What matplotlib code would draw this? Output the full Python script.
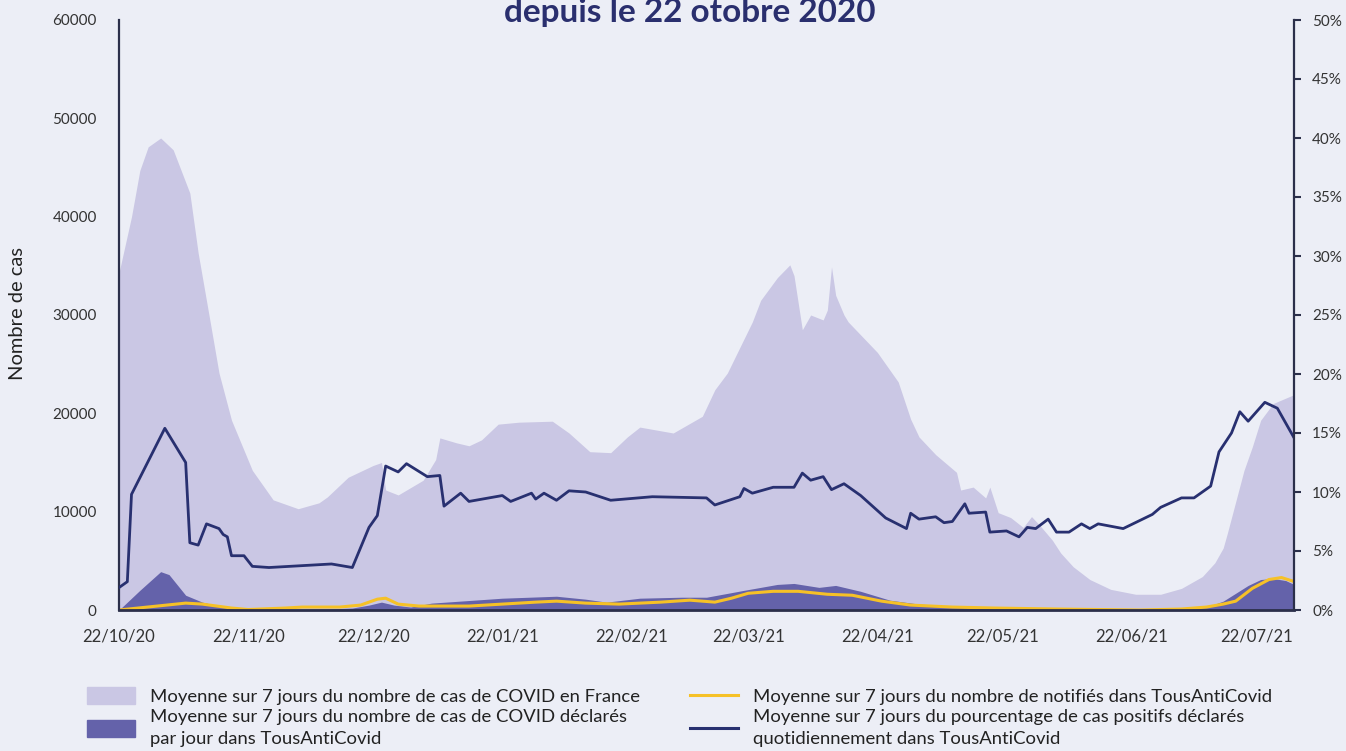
import numpy as np
import pandas as pd
import matplotlib
matplotlib.use('Agg')
import matplotlib.pyplot as plt
import matplotlib.dates as mdates
from matplotlib.patches import Patch
from matplotlib.lines import Line2D

plt.rcParams['font.family'] = ['Lato', 'DejaVu Sans']

# moyenne 7 jours des cas en France (aire claire)
france_dates = ['2020-10-22', '2020-10-25', '2020-10-27', '2020-10-29', '2020-11-01', '2020-11-04',
                '2020-11-08', '2020-11-10', '2020-11-13', '2020-11-15', '2020-11-18', '2020-11-23',
                '2020-11-28', '2020-12-04', '2020-12-09', '2020-12-11', '2020-12-16', '2020-12-22',
                '2020-12-24', '2020-12-25', '2020-12-28', '2021-01-03', '2021-01-06', '2021-01-07',
                '2021-01-11', '2021-01-14', '2021-01-17', '2021-01-21', '2021-01-26', '2021-02-03',
                '2021-02-07', '2021-02-12', '2021-02-17', '2021-02-21', '2021-02-24', '2021-02-28',
                '2021-03-04', '2021-03-11', '2021-03-14', '2021-03-17', '2021-03-23', '2021-03-25',
                '2021-03-29', '2021-04-01', '2021-04-02', '2021-04-04', '2021-04-06', '2021-04-09',
                '2021-04-10', '2021-04-11', '2021-04-12', '2021-04-14', '2021-04-15', '2021-04-22',
                '2021-04-27', '2021-04-30', '2021-05-02', '2021-05-06', '2021-05-11', '2021-05-12',
                '2021-05-15', '2021-05-18', '2021-05-19', '2021-05-21', '2021-05-24', '2021-05-27',
                '2021-05-29', '2021-05-31', '2021-06-03', '2021-06-05', '2021-06-08', '2021-06-12',
                '2021-06-17', '2021-06-23', '2021-06-29', '2021-07-04', '2021-07-09', '2021-07-12',
                '2021-07-14', '2021-07-15', '2021-07-17', '2021-07-19', '2021-07-21', '2021-07-23',
                '2021-07-26', '2021-07-31']
france_cases = [34300, 40000, 44700, 47100, 48000, 46800,
                42400, 36300, 29000, 24100, 19300, 14200,
                11200, 10300, 10900, 11500, 13500, 14700,
                15000, 12200, 11700, 13200, 15300, 17500,
                17000, 16700, 17300, 18900, 19100, 19200,
                18000, 16100, 16000, 17600, 18600, 18300,
                18000, 19700, 22400, 24100, 29300, 31500,
                33800, 35100, 34000, 28500, 30000, 29500,
                30500, 34900, 32000, 30000, 29300, 26200,
                23200, 19400, 17600, 15800, 14000, 12200,
                12500, 11400, 12500, 9900, 9400, 8400,
                9500, 8600, 7100, 5800, 4400, 3100,
                2100, 1600, 1600, 2200, 3400, 4800,
                6300, 7800, 11000, 14200, 16600, 19300,
                21000, 21900]

# moyenne 7 jours des cas declares dans TousAntiCovid (aire foncee)
tac_dates = ['2020-10-22', '2020-10-27', '2020-11-01', '2020-11-03', '2020-11-07', '2020-11-11',
             '2020-11-16', '2020-11-21', '2020-12-01', '2020-12-11', '2020-12-17', '2020-12-21',
             '2020-12-24', '2020-12-27', '2020-12-31', '2021-01-05', '2021-01-22', '2021-02-04',
             '2021-02-11', '2021-02-16', '2021-02-24', '2021-03-06', '2021-03-12', '2021-03-21',
             '2021-03-29', '2021-04-02', '2021-04-08', '2021-04-12', '2021-04-18', '2021-04-25',
             '2021-05-02', '2021-05-10', '2021-05-20', '2021-06-04', '2021-06-29', '2021-07-10',
             '2021-07-14', '2021-07-17', '2021-07-20', '2021-07-23', '2021-07-26', '2021-07-29',
             '2021-07-31']
tac_cases = [0, 2000, 3900, 3600, 1500, 800,
             300, 100, 50, 100, 200, 500,
             800, 500, 300, 700, 1200, 1400,
             1100, 800, 1200, 1300, 1300, 2000,
             2600, 2700, 2300, 2500, 1900, 1000,
             600, 400, 200, 100, 100, 300,
             900, 1700, 2500, 3100, 3200, 3000,
             2600]

# moyenne 7 jours des notifies (ligne jaune)
notif_dates = ['2020-10-22', '2020-11-07', '2020-11-11', '2020-11-18', '2020-11-22', '2020-12-01',
               '2020-12-05', '2020-12-14', '2020-12-19', '2020-12-23', '2020-12-25', '2020-12-28',
               '2021-01-02', '2021-01-14', '2021-01-22', '2021-01-30', '2021-02-04', '2021-02-11',
               '2021-02-19', '2021-03-01', '2021-03-08', '2021-03-14', '2021-03-18', '2021-03-22',
               '2021-03-28', '2021-04-03', '2021-04-10', '2021-04-16', '2021-04-23', '2021-04-30',
               '2021-05-10', '2021-05-20', '2021-06-04', '2021-06-24', '2021-07-04', '2021-07-10',
               '2021-07-14', '2021-07-17', '2021-07-21', '2021-07-25', '2021-07-28', '2021-07-31']
notif_cases = [0, 700, 600, 200, 50, 200,
               300, 300, 500, 1100, 1200, 600,
               400, 400, 600, 800, 900, 700,
               600, 800, 1000, 800, 1200, 1700,
               1900, 1900, 1600, 1500, 900, 500,
               300, 200, 100, 0, 100, 300,
               600, 900, 2200, 3100, 3300, 2900]

# pourcentage de cas positifs (ligne bleue, axe droit)
pct_dates = ['2020-10-22', '2020-10-24', '2020-10-25', '2020-11-02', '2020-11-07', '2020-11-08',
             '2020-11-10', '2020-11-12', '2020-11-15', '2020-11-16', '2020-11-17', '2020-11-18',
             '2020-11-21', '2020-11-23', '2020-11-27', '2020-12-12', '2020-12-17', '2020-12-21',
             '2020-12-23', '2020-12-25', '2020-12-28', '2020-12-30', '2021-01-04', '2021-01-07',
             '2021-01-08', '2021-01-12', '2021-01-14', '2021-01-22', '2021-01-24', '2021-01-29',
             '2021-01-30', '2021-02-01', '2021-02-04', '2021-02-07', '2021-02-11', '2021-02-17',
             '2021-02-27', '2021-03-12', '2021-03-14', '2021-03-20', '2021-03-21', '2021-03-23',
             '2021-03-28', '2021-04-02', '2021-04-04', '2021-04-06', '2021-04-09', '2021-04-11',
             '2021-04-14', '2021-04-18', '2021-04-24', '2021-04-29', '2021-04-30', '2021-05-02',
             '2021-05-06', '2021-05-08', '2021-05-10', '2021-05-13', '2021-05-14', '2021-05-18',
             '2021-05-19', '2021-05-23', '2021-05-26', '2021-05-28', '2021-05-30', '2021-06-02',
             '2021-06-04', '2021-06-07', '2021-06-10', '2021-06-12', '2021-06-14', '2021-06-20',
             '2021-06-27', '2021-06-29', '2021-07-04', '2021-07-07', '2021-07-11', '2021-07-13',
             '2021-07-16', '2021-07-18', '2021-07-20', '2021-07-24', '2021-07-27', '2021-07-31']
pct_pos = [1.9, 2.4, 9.8, 15.4, 12.5, 5.7,
           5.5, 7.3, 6.9, 6.4, 6.2, 4.6,
           4.6, 3.7, 3.6, 3.9, 3.6, 7.0,
           8.0, 12.2, 11.7, 12.4, 11.3, 11.4,
           8.8, 9.9, 9.2, 9.7, 9.2, 9.9,
           9.4, 9.9, 9.3, 10.1, 10.0, 9.3,
           9.6, 9.5, 8.9, 9.6, 10.3, 9.9,
           10.4, 10.4, 11.6, 11.0, 11.3, 10.2,
           10.7, 9.7, 7.8, 6.9, 8.2, 7.7,
           7.9, 7.4, 7.5, 9.0, 8.2, 8.3,
           6.6, 6.7, 6.2, 7.0, 6.9, 7.7,
           6.6, 6.6, 7.3, 6.9, 7.3, 6.9,
           8.1, 8.7, 9.5, 9.5, 10.5, 13.4,
           15.0, 16.8, 16.0, 17.6, 17.1, 14.6]

tick_dates = ['2020-10-22', '2020-11-22', '2020-12-22', '2021-01-22', '2021-02-22', '2021-03-22',
              '2021-04-22', '2021-05-22', '2021-06-22', '2021-07-22']

bg = '#ECEEF6'
light = '#CAC7E4'
dark = '#6462AA'
navy = '#283070'
yellow = '#F6C127'
axis_col = '#2B2F4A'
txt = '#333333'

fig = plt.figure(figsize=(13.46, 7.51), dpi=100, facecolor=bg)
ax = fig.add_axes([119/1346, 141/751, (1294-119)/1346, 590/751])
ax.set_facecolor(bg)

ax.fill_between(pd.to_datetime(france_dates), 0, france_cases, color=light, lw=0)
ax.fill_between(pd.to_datetime(tac_dates), 0, tac_cases, color=dark, lw=0)
ax.plot(pd.to_datetime(notif_dates), notif_cases, color=yellow, lw=2.2)

ax.set_ylim(0, 60000)
ax.set_xlim(pd.Timestamp('2020-10-22'), pd.Timestamp('2021-07-31'))
ax.set_yticks(np.arange(0, 60001, 10000))
ax.set_xticks(pd.to_datetime(tick_dates))
ax.xaxis.set_major_formatter(mdates.DateFormatter('%d/%m/%y'))
ax.tick_params(axis='y', length=0, pad=16, labelsize=11, labelcolor=txt)
ax.tick_params(axis='x', length=0, pad=13, labelsize=12, labelcolor=txt)
for s in ['top', 'right']:
    ax.spines[s].set_visible(False)
ax.spines['left'].set_color(axis_col)
ax.spines['left'].set_linewidth(1.6)
ax.spines['bottom'].set_color(axis_col)
ax.spines['bottom'].set_linewidth(2)

ax2 = ax.twinx()
ax2.plot(pd.to_datetime(pct_dates), pct_pos, color=navy, lw=2.0)
ax2.set_ylim(0, 50)
ax2.set_yticks(np.arange(0, 51, 5))
ax2.set_yticklabels([f'{v}%' for v in range(0, 51, 5)])
ax2.tick_params(axis='y', length=5, width=1.5, color=axis_col, pad=8, labelsize=11, labelcolor=txt)
for s in ['top', 'left', 'bottom']:
    ax2.spines[s].set_visible(False)
ax2.spines['right'].set_color(axis_col)
ax2.spines['right'].set_linewidth(1.6)

fig.text(18/1346, 1 - 314/751, 'Nombre de cas', rotation=90, ha='center', va='center',
         fontsize=14.5, color='#222222')

fig.text(690/1346, 1 - 22/751, 'depuis le 22 otobre 2020', ha='center', va='baseline',
         fontsize=24, fontweight='bold', color='#2A2F6E')

handles = [Patch(color=light), Patch(color=dark),
           Line2D([], [], color=yellow, lw=2.2), Line2D([], [], color=navy, lw=2.2)]
labels = ['Moyenne sur 7 jours du nombre de cas de COVID en France',
          'Moyenne sur 7 jours du nombre de cas de COVID déclarés\npar jour dans TousAntiCovid',
          'Moyenne sur 7 jours du nombre de notifiés dans TousAntiCovid',
          'Moyenne sur 7 jours du pourcentage de cas positifs déclarés\nquotidiennement dans TousAntiCovid']
leg = fig.legend(handles, labels, loc='upper left', bbox_to_anchor=(78/1346, 1 - 678/751),
                 ncol=2, frameon=False, fontsize=13.3, handlelength=2.6, handleheight=1.0,
                 handletextpad=0.8, columnspacing=2.7, labelspacing=0.25, borderpad=0)
for t in leg.get_texts():
    t.set_color('#222222')
    t.set_linespacing(1.45)

fig.savefig('out.png', dpi=100, facecolor=bg)
